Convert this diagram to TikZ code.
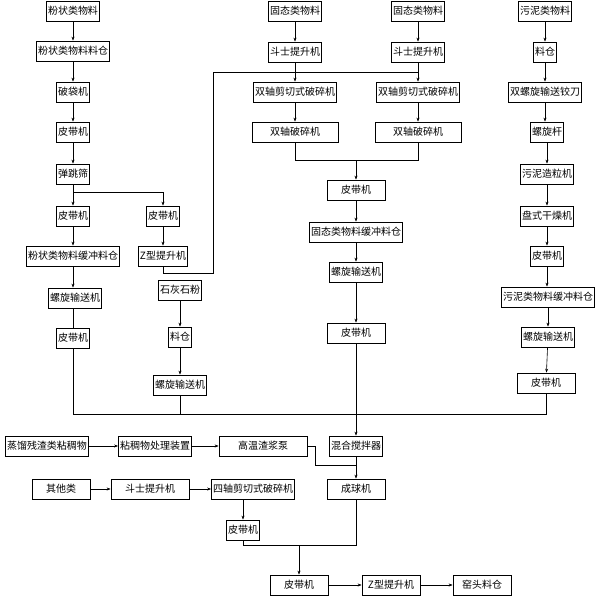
\documentclass[tikz,border=0pt]{standalone}
\usepackage{fontspec}
\newfontfamily\cjk{Noto Sans CJK SC}
\usetikzlibrary{arrows.meta}
\tikzset{every picture/.style={line width=0.75pt}}
\tikzset{box/.style={draw,font=\cjk\fontsize{10}{12}\selectfont,inner sep=1.5pt,minimum height=20pt},
	arr/.style={-{Stealth[length=4pt,width=3pt]},line width=0.6pt},
	ln/.style={line width=0.6pt}}
\begin{document}
\begin{tikzpicture}[x=1pt,y=1pt,yscale=-1]
	\useasboundingbox (0,0) rectangle (600,600);
	% left column
	\node[box] (fz) at (73,11) {粉状类物料};
	\node[box] (fzc) at (73,51) {粉状类物料料仓};
	\node[box] (pd) at (73,92) {破袋机};
	\node[box] (pa) at (73,132) {皮带机};
	\node[box] (tt) at (73,174) {弹跳筛};
	\node[box] (pb) at (73,216) {皮带机};
	\node[box] (pc) at (163,216) {皮带机};
	\node[box] (fzh) at (73,256) {粉状类物料缓冲料仓};
	\node[box] (za) at (163,256) {Z型提升机};
	\node[box] (lsa) at (75,298) {螺旋输送机};
	\node[box] (shi) at (180,290) {石灰石粉};
	\node[box] (pe) at (73,338) {皮带机};
	\node[box] (lc) at (180,337) {料仓};
	\node[box] (lsb) at (180,385) {螺旋输送机};
	\draw[arr] (fz) -- (fzc);
	\draw[arr] (fzc) -- (pd);
	\draw[arr] (pd) -- (pa);
	\draw[arr] (pa) -- (tt);
	\draw[arr] (tt) -- (pb);
	\draw[arr] (73,192) -| (pc);
	\draw[arr] (pb) -- (fzh);
	\draw[arr] (pc) -- (za);
	\draw[arr] (fzh) -- (lsa.north -| fzh);
	\draw[ln] (lsa.south -| pe) -- (pe);
	\draw[arr] (shi) -- (lc);
	\draw[arr] (lc) -- (lsb);
	% middle columns
	\node[box] (gta) at (295,11) {固态类物料};
	\node[box] (gtb) at (418,11) {固态类物料};
	\node[box] (dsa) at (295,52) {斗士提升机};
	\node[box] (dsb) at (418,52) {斗士提升机};
	\node[box] (jqa) at (295,92) {双轴剪切式破碎机};
	\node[box] (jqb) at (418,92) {双轴剪切式破碎机};
	\node[box,minimum width=86pt] (sza) at (295,132) {双轴破碎机};
	\node[box,minimum width=86pt] (szb) at (418,132) {双轴破碎机};
	\node[box,minimum width=58pt] (pf) at (356,190) {皮带机};
	\node[box] (gth) at (356,232) {固态类物料缓冲料仓};
	\node[box] (lsc) at (356,272) {螺旋输送机};
	\node[box,minimum width=58pt] (pg) at (356,333) {皮带机};
	\draw[arr] (gta) -- (dsa);
	\draw[arr] (gtb) -- (dsb);
	\draw[arr] (dsa) -- (jqa);
	\draw[arr] (dsb) -- (jqb);
	\draw[ln] (za.south) -- (163,273) -- (213,273) -- (213,72) -- (418,72);
	\draw[arr] (jqa) -- (sza);
	\draw[arr] (jqb) -- (szb);
	\draw[ln] (sza) -- (295,160) -- (418,160) -- (szb);
	\draw[arr] (356,160) -- (pf);
	\draw[arr] (pf) -- (gth);
	\draw[arr] (gth) -- (lsc);
	\draw[arr] (lsc) -- (pg);
	% right column
	\node[box] (wn) at (545,11) {污泥类物料};
	\node[box] (lcb) at (545,52) {料仓};
	\node[box] (sl) at (545,92) {双螺旋输送铰刀};
	\node[box] (lsg) at (547,132) {螺旋杆};
	\node[box] (zl) at (547,174) {污泥造粒机};
	\node[box] (gz) at (547,216) {盘式干燥机};
	\node[box] (ph) at (547,256) {皮带机};
	\node[box] (wnh) at (548,297) {污泥类物料缓冲料仓};
	\node[box] (lsd) at (548,337) {螺旋输送机};
	\node[box,minimum width=58pt] (pi) at (546,383) {皮带机};
	\draw[arr] (wn) -- (lcb);
	\draw[arr] (lcb) -- (sl);
	\draw[arr] (sl) -- (lsg.north -| sl);
	\draw[arr] (lsg) -- (zl);
	\draw[arr] (zl) -- (gz);
	\draw[arr] (gz) -- (ph);
	\draw[arr] (ph) -- (wnh.north -| ph);
	\draw[arr] (wnh) -- (lsd);
	\draw[arr] (lsd) -- (pi);
	% collector
	\draw[ln] (pe) -- (73,414) -- (546,414) -- (pi);
	\draw[ln] (lsb) -- (180,414);
	% bottom
	\node[box] (zl2) at (47,446) {蒸馏残渣类粘稠物};
	\node[box] (nc) at (155,446) {粘稠物处理装置};
	\node[box,minimum width=88pt] (gw) at (263,446) {高温渣浆泵};
	\node[box] (hh) at (356,446) {混合搅拌器};
	\node[box,minimum width=58pt] (cq) at (356,489) {成球机};
	\node[box,minimum width=58pt] (qt) at (61,489) {其他类};
	\node[box,minimum width=78pt] (dsc) at (150,489) {斗士提升机};
	\node[box] (sz4) at (253,489) {四轴剪切式破碎机};
	\node[box] (pj) at (243,530) {皮带机};
	\node[box,minimum width=58pt] (pk) at (299,585) {皮带机};
	\node[box,minimum width=58pt] (zb) at (391,585) {Z型提升机};
	\node[box,minimum width=58pt] (yt) at (482,585) {窑头料仓};
	\draw[arr] (pg) -- (hh);
	\draw[arr] (zl2) -- (nc);
	\draw[arr] (nc) -- (gw);
	\draw[ln] (gw.east) -- (315,446) -- (315,465) -- (356,465);
	\draw[arr] (hh) -- (cq);
	\draw[arr] (qt) -- (dsc);
	\draw[arr] (dsc) -- (sz4);
	\draw[arr] (sz4.south -| pj) -- (pj);
	\draw[ln] (pj) -- (243,545) -- (356,545) -- (cq);
	\draw[arr] (299,545) -- (pk);
	\draw[arr] (pk) -- (zb);
	\draw[arr] (zb) -- (yt);
\end{tikzpicture}
\end{document}
